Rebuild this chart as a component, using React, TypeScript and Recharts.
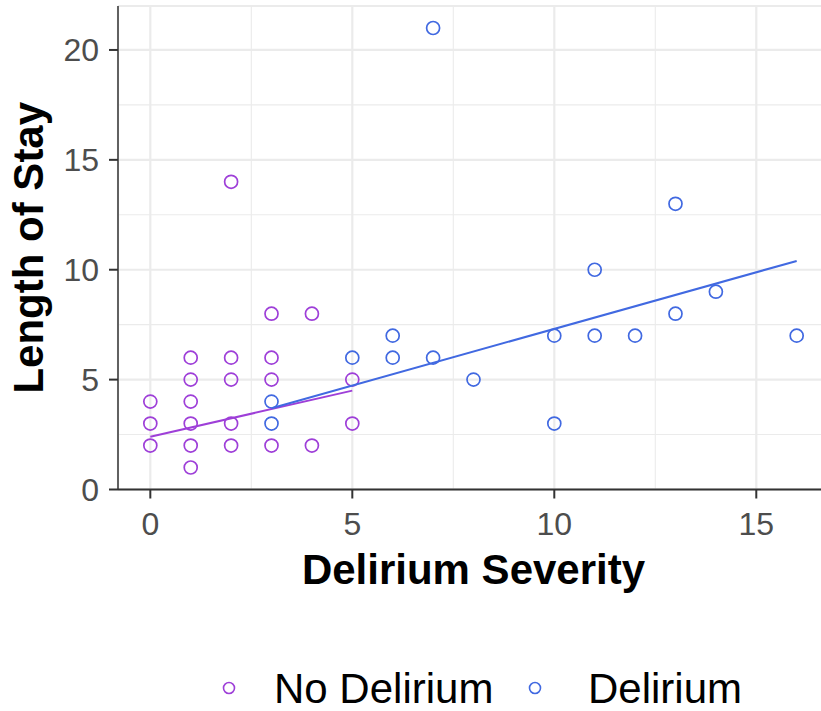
import React from 'react';
import { ScatterChart, Scatter, XAxis, YAxis, CartesianGrid, ReferenceLine, Legend } from 'recharts';

const noDeliriumSeverity = [0, 0, 0, 1, 1, 1, 1, 1, 1, 2, 2, 2, 2, 2, 3, 3, 3, 3, 4, 4, 5, 5];
const noDeliriumStay = [2, 3, 4, 1, 2, 3, 4, 5, 6, 2, 3, 5, 6, 14, 2, 5, 6, 8, 2, 8, 3, 5];
const deliriumSeverity = [3, 3, 5, 6, 6, 7, 7, 8, 10, 10, 11, 11, 12, 13, 13, 14, 16];
const deliriumStay = [3, 4, 6, 6, 7, 6, 21, 5, 3, 7, 7, 10, 7, 8, 13, 9, 7];
const noDeliriumFitSeverity = [0, 5];
const noDeliriumFitStay = [2.4, 4.5];
const deliriumFitSeverity = [3, 16];
const deliriumFitStay = [3.7, 10.4];
const xTicks = [0, 5, 10, 15];
const yTicks = [0, 5, 10, 15, 20];
const xMinor = [2.5, 7.5, 12.5];
const yMinor = [2.5, 7.5, 12.5, 17.5];
const seriesNames = ['No Delirium', 'Delirium'];
const xDomain = [-0.8, 16.8];
const yDomain = [0, 22];

const PURPLE = '#9E3FD8';
const BLUE = '#4169E1';
const FONT = '"Liberation Sans", Arial, Helvetica, sans-serif';

const zip = (xs: number[], ys: number[]) => xs.map((x, i) => ({ x, y: ys[i] }));
const noDelData = zip(noDeliriumSeverity, noDeliriumStay);
const delData = zip(deliriumSeverity, deliriumStay);
const noDelFit = zip(noDeliriumFitSeverity, noDeliriumFitStay);
const delFit = zip(deliriumFitSeverity, deliriumFitStay);

const hollow = (color: string) => (p: any) => (
  <circle cx={p.cx} cy={p.cy} r={6.5} fill="none" stroke={color} strokeWidth={1.7} />
);
const noShape = () => <g />;

const renderLegend = () => (
  <svg width={821} height={51} style={{ display: 'block' }}>
    <circle cx={229} cy={28} r={5.5} fill="none" stroke={PURPLE} strokeWidth={1.6} />
    <text x={274} y={43} fontFamily={FONT} fontSize={42} fill="#000">{seriesNames[0]}</text>
    <circle cx={535} cy={28} r={5.5} fill="none" stroke={BLUE} strokeWidth={1.6} />
    <text x={588} y={43} fontFamily={FONT} fontSize={42} fill="#000">{seriesNames[1]}</text>
  </svg>
);

export default function App() {
  const tickStyle = { fill: '#4d4d4d', fontSize: 32, fontFamily: FONT };
  return (
    <div style={{ position: 'absolute', left: 0, top: 0, width: 821, height: 711, overflow: 'hidden', background: '#fff' }}>
      <ScatterChart width={829} height={711} margin={{ top: 6, right: 0, left: 0, bottom: 0 }}>
        <CartesianGrid stroke="#ebebeb" strokeWidth={2.2} />
        {xMinor.map((v) => (
          <ReferenceLine key={'xm' + v} x={v} stroke="#ebebeb" strokeWidth={1.1} />
        ))}
        {yMinor.map((v) => (
          <ReferenceLine key={'ym' + v} y={v} stroke="#ebebeb" strokeWidth={1.1} />
        ))}
        <XAxis
          type="number"
          dataKey="x"
          domain={xDomain}
          ticks={xTicks}
          allowDataOverflow
          height={221.5}
          tickSize={9}
          tickMargin={14}
          tick={tickStyle}
          tickLine={{ stroke: '#333', strokeWidth: 2 }}
          axisLine={{ stroke: '#333', strokeWidth: 2 }}
          label={{
            content: (p: any) => (
              <text
                x={p.viewBox.x + p.viewBox.width / 2}
                y={p.viewBox.y + 94}
                textAnchor="middle"
                fontFamily={FONT}
                fontSize={42}
                fontWeight="bold"
                fill="#000"
              >
                Delirium Severity
              </text>
            ),
          }}
        />
        <XAxis
          xAxisId="top"
          orientation="top"
          type="number"
          domain={xDomain}
          allowDataOverflow
          height={0}
          tick={false}
          tickLine={false}
          axisLine={{ stroke: '#333', strokeWidth: 1.5 }}
        />
        <YAxis
          type="number"
          dataKey="y"
          domain={yDomain}
          ticks={yTicks}
          allowDataOverflow
          width={118}
          tickSize={9}
          tickMargin={10}
          tick={tickStyle}
          tickLine={{ stroke: '#333', strokeWidth: 2 }}
          axisLine={{ stroke: '#333', strokeWidth: 1.5 }}
          label={{
            content: (p: any) => {
              const cx = 43;
              const cy = p.viewBox.y + p.viewBox.height / 2;
              return (
                <text
                  x={cx}
                  y={cy}
                  transform={`rotate(-90, ${cx}, ${cy})`}
                  textAnchor="middle"
                  fontFamily={FONT}
                  fontSize={42}
                  fontWeight="bold"
                  fill="#000"
                >
                  Length of Stay
                </text>
              );
            },
          }}
        />
        <Scatter name={seriesNames[0]} data={noDelData} shape={hollow(PURPLE)} isAnimationActive={false} />
        <Scatter name={seriesNames[1]} data={delData} shape={hollow(BLUE)} isAnimationActive={false} />
        <Scatter
          name="fit-no"
          data={noDelFit}
          line={{ stroke: PURPLE, strokeWidth: 2 }}
          shape={noShape}
          legendType="none"
          isAnimationActive={false}
        />
        <Scatter
          name="fit-del"
          data={delFit}
          line={{ stroke: BLUE, strokeWidth: 2 }}
          shape={noShape}
          legendType="none"
          isAnimationActive={false}
        />
        <Legend
          layout="horizontal"
          verticalAlign="middle"
          align="center"
          wrapperStyle={{ top: 660, left: 0, width: 821, height: 51 }}
          content={renderLegend}
        />
      </ScatterChart>
    </div>
  );
}
